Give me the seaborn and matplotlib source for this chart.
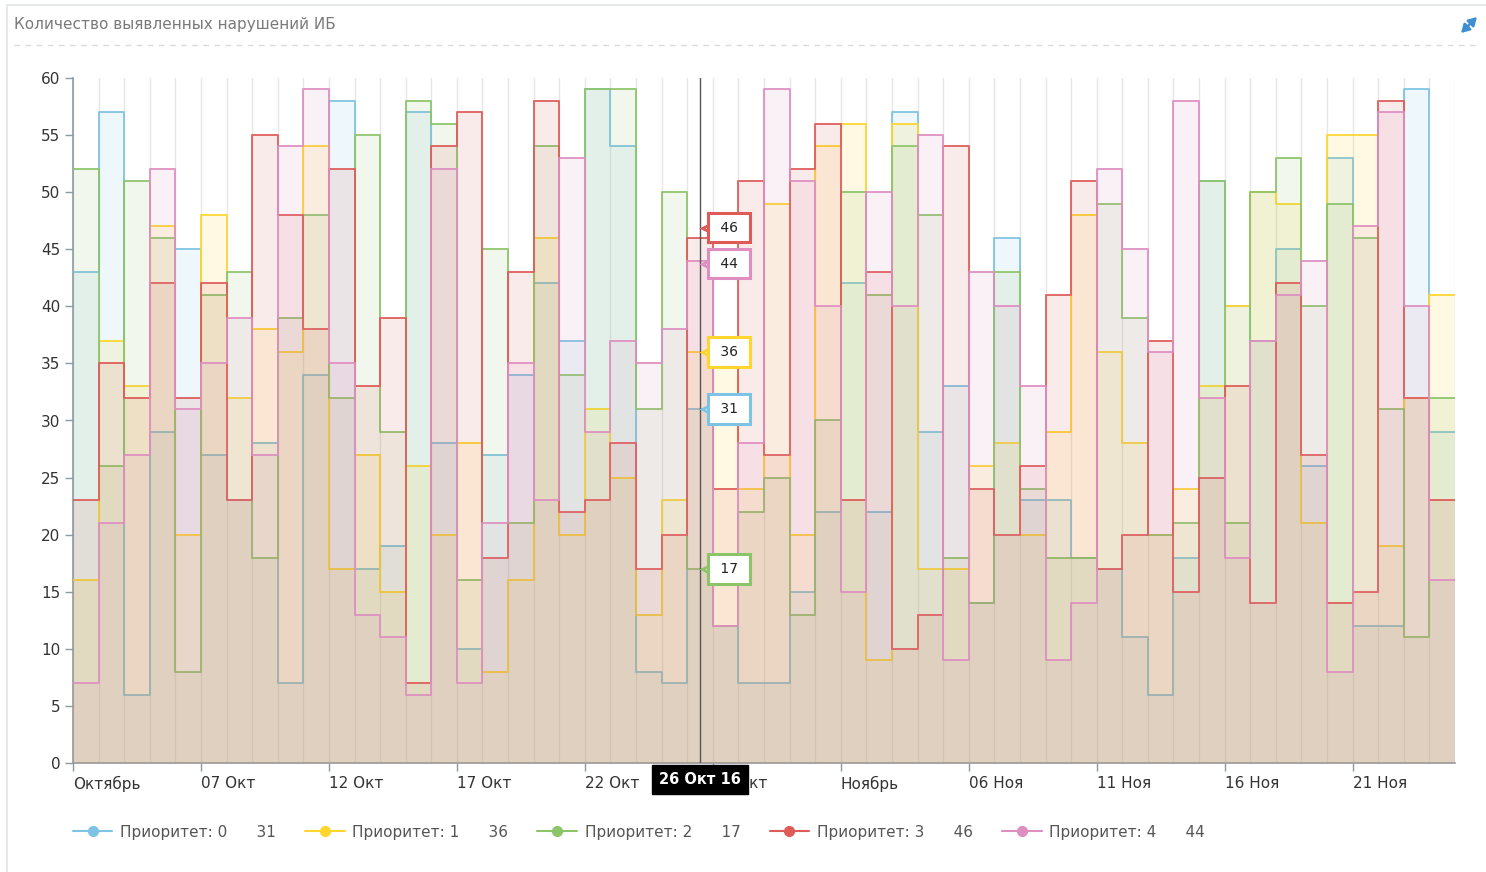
import numpy as np
import pandas as pd
import matplotlib
matplotlib.use("Agg")
import matplotlib.pyplot as plt
import seaborn as sns
from matplotlib.lines import Line2D
from matplotlib.patches import Rectangle, FancyArrowPatch
from matplotlib.transforms import offset_copy

# ---------------- data ----------------
tick_labels = ["Октябрь", "07 Окт", "12 Окт", "17 Окт", "22 Окт", "27 Окт",
               "Ноябрь", "06 Ноя", "11 Ноя", "16 Ноя", "21 Ноя"]
series_names = ["Приоритет: 0", "Приоритет: 1", "Приоритет: 2", "Приоритет: 3", "Приоритет: 4"]

p0 = [43, 57, 6, 29, 45, 27, 23, 28, 7, 34, 58, 17, 19, 57, 28, 10, 27, 34, 42, 37,
      59, 54, 8, 7, 31, 12, 7, 7, 15, 22, 42, 22, 57, 29, 33, 14, 46, 23, 23, 18,
      17, 11, 6, 18, 51, 40, 37, 45, 26, 53, 12, 12, 59, 29]
p1 = [16, 37, 33, 47, 20, 48, 32, 38, 36, 54, 17, 27, 15, 26, 20, 28, 8, 16, 46, 20,
      31, 25, 13, 23, 36, 35, 24, 49, 20, 54, 56, 9, 56, 17, 17, 26, 28, 20, 29, 48,
      36, 28, 20, 24, 33, 40, 50, 49, 21, 55, 55, 19, 32, 41]
p2 = [52, 26, 51, 46, 8, 41, 43, 18, 39, 48, 32, 55, 29, 58, 56, 16, 45, 21, 54, 34,
      59, 59, 31, 50, 17, 12, 22, 25, 13, 30, 50, 41, 54, 48, 18, 14, 43, 24, 18, 18,
      49, 39, 20, 21, 51, 21, 50, 53, 40, 49, 46, 31, 11, 32]
p3 = [23, 35, 32, 42, 32, 42, 23, 55, 48, 38, 52, 33, 39, 7, 54, 57, 18, 43, 58, 22,
      23, 28, 17, 20, 46, 24, 51, 27, 52, 56, 23, 43, 10, 13, 54, 24, 20, 26, 41, 51,
      17, 20, 37, 15, 25, 33, 14, 42, 27, 14, 15, 58, 32, 23]
p4 = [7, 21, 27, 52, 31, 35, 39, 27, 54, 59, 35, 13, 11, 6, 52, 7, 21, 35, 23, 53,
      29, 37, 35, 38, 44, 12, 28, 59, 51, 40, 15, 50, 40, 55, 9, 43, 40, 33, 9, 14,
      52, 45, 36, 58, 32, 18, 37, 41, 44, 8, 47, 57, 40, 16]

hover_index = 24
hover_label = "26 Окт 16"

series = [p0, p1, p2, p3, p4]
line_colors = ["#7DC3E3", "#FFD52E", "#8CC46A", "#DE5B58", "#DE8EC0"]
fill_colors = ["#6BB9E0", "#FFD000", "#86BE5F", "#D9504C", "#D987BA"]

n = len(p0)
# ---------------- figure ----------------
sns.set_style("white")
plt.rcParams["font.family"] = ["DejaVu Sans"]

W, H = 1486, 872
fig = plt.figure(figsize=(W / 100, H / 100), dpi=100)
ax = fig.add_axes([73 / W, 1 - 763 / H, (1455 - 73) / W, (763 - 78) / H])

# panel frame and title
fig.patches.append(Rectangle((7 / W, -0.01), 1.0, 1 - 5 / H + 0.01, transform=fig.transFigure,
                             fill=False, ec="#E2E5E8", lw=1.2, zorder=0))
fig.text(14 / W, 1 - 24 / H, "Количество выявленных нарушений ИБ", fontsize=11,
         color="#7A7A7A", va="center", ha="left")
fig.add_artist(Line2D([14 / W, 1480 / W], [1 - 45 / H, 1 - 45 / H], transform=fig.transFigure,
                      color="#DADADA", lw=1, ls=(0, (4, 4))))
fig.add_artist(FancyArrowPatch((1461 / W, 1 - 33 / H), (1477 / W, 1 - 17 / H),
                               transform=fig.transFigure,
                               arrowstyle="<|-|>,head_length=0.6,head_width=0.35",
                               mutation_scale=8, color="#3D8FD1", lw=1.8,
                               shrinkA=0, shrinkB=0))

x_edges = np.arange(n + 1)
for i, vals in enumerate(series):
    yv = np.array(vals + [vals[-1]], dtype=float)
    ax.fill_between(x_edges, 0, yv, step="post", color=fill_colors[i], alpha=0.11,
                    lw=0, zorder=2 + 2 * i)
    df = pd.DataFrame({"x": x_edges, "y": yv})
    sns.lineplot(data=df, x="x", y="y", drawstyle="steps-post", color=line_colors[i],
                 lw=1.4, alpha=0.9, ax=ax, zorder=3 + 2 * i, legend=False)

ax.set_xlim(0, n)
ax.set_ylim(0, 60)
ax.set_yticks(np.arange(0, 61, 5))
ax.set_xticks(np.arange(0, n, 5))
ax.set_xticks(np.arange(0, n + 1, 1), minor=True)
ax.set_xticklabels(tick_labels, ha="left")
ax.set_xlabel("")
ax.set_ylabel("")
ax.grid(True, axis="x", which="both", color="#E6E6E6", lw=1)
ax.grid(False, axis="y")
ax.set_axisbelow(True)
for s in ["top", "right"]:
    ax.spines[s].set_visible(False)
for s in ["left", "bottom"]:
    ax.spines[s].set_color("#8E9AA3")
    ax.spines[s].set_linewidth(1.2)
ax.tick_params(axis="y", which="major", direction="out", length=6, width=1, color="#8E9AA3",
               labelsize=11, labelcolor="#333333", pad=3, left=True)
ax.tick_params(axis="x", which="major", direction="out", length=6, width=1, color="#8E9AA3",
               labelsize=11, labelcolor="#333333", pad=3, bottom=True)
ax.tick_params(axis="x", which="minor", length=0)

# crosshair + tooltips
xh = hover_index + 0.5
ax.axvline(xh, color="#555555", lw=1, zorder=20)
offsets = [0, 0, 0, 10, -3]
for i, vals in enumerate(series):
    v = vals[hover_index]
    tr = offset_copy(ax.transData, fig=fig, x=9, y=offsets[i], units="dots")
    ax.plot([xh], [v], marker="<", ms=10, mfc="white", mec=line_colors[i], mew=2,
            transform=tr, zorder=29, clip_on=False)
    ax.annotate(f" {v} ", xy=(xh, v), xytext=(21, offsets[i] * 0.72), textcoords="offset points",
                ha="center", va="center", fontsize=10, color="#222222", zorder=30,
                bbox=dict(boxstyle="square,pad=0.55", fc="white", ec=line_colors[i], lw=2.2),
                annotation_clip=False)
ax.annotate(hover_label, xy=(xh, 0), xytext=(0, -12), textcoords="offset points",
            ha="center", va="center", fontsize=10.5, color="white", fontweight="bold",
            bbox=dict(boxstyle="square,pad=0.5", fc="black", ec="black"), zorder=40,
            annotation_clip=False)

# legend
handles = [Line2D([], [], color=line_colors[i], marker="o", ms=7, lw=1.5) for i in range(5)]
labels = [f"{series_names[i]}      {series[i][hover_index]}" for i in range(5)]
fig.legend(handles, labels, loc="center left", bbox_to_anchor=(59 / W, 1 - 832 / H), ncol=5,
           frameon=False, fontsize=11, handlelength=2.6, handletextpad=0.5,
           columnspacing=1.9, labelcolor="#555555")

fig.savefig("out.png", dpi=100)
